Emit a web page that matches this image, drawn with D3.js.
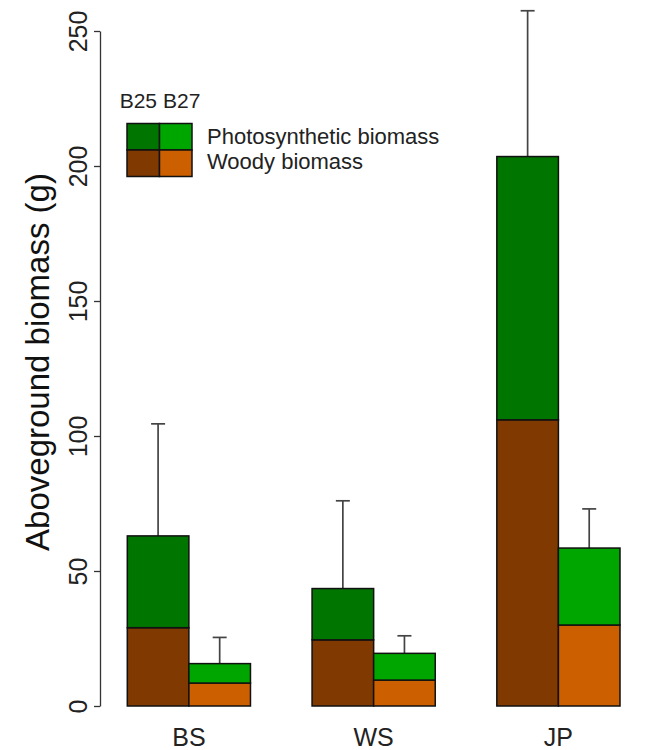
<!DOCTYPE html>
<html>
<head>
<meta charset="utf-8">
<script src="https://cdn.jsdelivr.net/npm/d3@7"></script>
<style>
  body { margin: 0; background: #fff; }
  svg { display: block; font-family: "Liberation Sans", Arial, sans-serif; }
</style>
</head>
<body>
<svg id="chart" width="656" height="750"></svg>
<script>
// species groups and seed sources
const categories = ["BS", "WS", "JP"];
const sources = ["B25", "B27"];

// mean biomass (g) per component, stacked woody + photosynthetic
const woodyB25 = [29, 24.5, 106];
const photoB25 = [34, 19, 97.5];
const woodyB27 = [8.5, 9.6, 30];
const photoB27 = [7.2, 9.9, 28.5];

// error bar length above the stacked total
const errB25 = [41.5, 32.5, 54];
const errB27 = [9.7, 6.5, 14.5];

const yTicks = [0, 50, 100, 150, 200, 250];
const legendLabels = ["Photosynthetic biomass", "Woody biomass"];

const colors = {
  B25: { photo: "#007500", woody: "#803900" },
  B27: { photo: "#00a600", woody: "#cc6000" }
};

const svg = d3.select("#chart");

// bar slots in bar-width units: one blank unit before each pair
const x = d3.scaleLinear().domain([1, 9]).range([127.3, 620]);
const y = d3.scaleLinear().domain([0, 250]).range([706, 31]);

const bars = [];
categories.forEach((c, i) => {
  bars.push({ cat: c, src: "B25", left: 1 + 3 * i, woody: woodyB25[i], photo: photoB25[i], err: errB25[i] });
  bars.push({ cat: c, src: "B27", left: 2 + 3 * i, woody: woodyB27[i], photo: photoB27[i], err: errB27[i] });
});

// error bars first so the bar outline sits on top
const eb = svg.append("g").attr("stroke", "#444").attr("stroke-width", 1.7);
bars.forEach(b => {
  const cx = x(b.left + 0.5);
  const top = b.woody + b.photo;
  eb.append("line").attr("x1", cx).attr("x2", cx).attr("y1", y(top)).attr("y2", y(top + b.err));
  eb.append("line").attr("x1", cx - 7).attr("x2", cx + 7).attr("y1", y(top + b.err)).attr("y2", y(top + b.err));
});

const bg = svg.append("g").attr("stroke", "#111").attr("stroke-width", 1.5);
bars.forEach(b => {
  bg.append("rect")
    .attr("x", x(b.left)).attr("width", x(b.left + 1) - x(b.left))
    .attr("y", y(b.woody)).attr("height", y(0) - y(b.woody))
    .attr("fill", colors[b.src].woody);
  bg.append("rect")
    .attr("x", x(b.left)).attr("width", x(b.left + 1) - x(b.left))
    .attr("y", y(b.woody + b.photo)).attr("height", y(b.woody) - y(b.woody + b.photo))
    .attr("fill", colors[b.src].photo);
});

// y axis
const yAxis = svg.append("g")
  .attr("transform", "translate(100,0)")
  .call(d3.axisLeft(y).tickValues(yTicks).tickSize(6).tickSizeOuter(0).tickFormat(d3.format("d")));
yAxis.selectAll("path, line").attr("stroke", "#333").attr("stroke-width", 1.3);
yAxis.selectAll("text")
  .attr("x", null).attr("dy", null)
  .attr("transform", "translate(-13,0) rotate(-90)")
  .attr("text-anchor", "middle")
  .attr("font-size", 25)
  .attr("font-family", "Liberation Sans, Arial, sans-serif")
  .attr("fill", "#222");

svg.append("text")
  .attr("transform", "translate(49,362) rotate(-90)")
  .attr("text-anchor", "middle")
  .attr("font-size", 33)
  .attr("fill", "#111")
  .text("Aboveground biomass (g)");

// category labels
svg.append("g").selectAll("text").data(categories).join("text")
  .attr("x", (d, i) => x(2 + 3 * i))
  .attr("y", 746)
  .attr("text-anchor", "middle")
  .attr("font-size", 25)
  .attr("fill", "#222")
  .text(d => d);

// legend: 2x2 colour block with source headers
const lg = svg.append("g");
const cellW = 32.5, cellH = 26.5, lx = 127, ly = 123.5;
sources.forEach((s, j) => {
  lg.append("text")
    .attr("x", j === 0 ? 157 : 163).attr("y", 108)
    .attr("text-anchor", j === 0 ? "end" : "start").attr("font-size", 21).attr("fill", "#222")
    .text(s);
  ["photo", "woody"].forEach((k, r) => {
    lg.append("rect")
      .attr("x", lx + cellW * j).attr("y", ly + cellH * r)
      .attr("width", cellW).attr("height", cellH)
      .attr("fill", colors[s][k]).attr("stroke", "#111").attr("stroke-width", 1.5);
  });
});
legendLabels.forEach((t, r) => {
  lg.append("text")
    .attr("x", 207).attr("y", 144 + 25 * r)
    .attr("font-size", 22).attr("fill", "#222")
    .text(t);
});
</script>
</body>
</html>
